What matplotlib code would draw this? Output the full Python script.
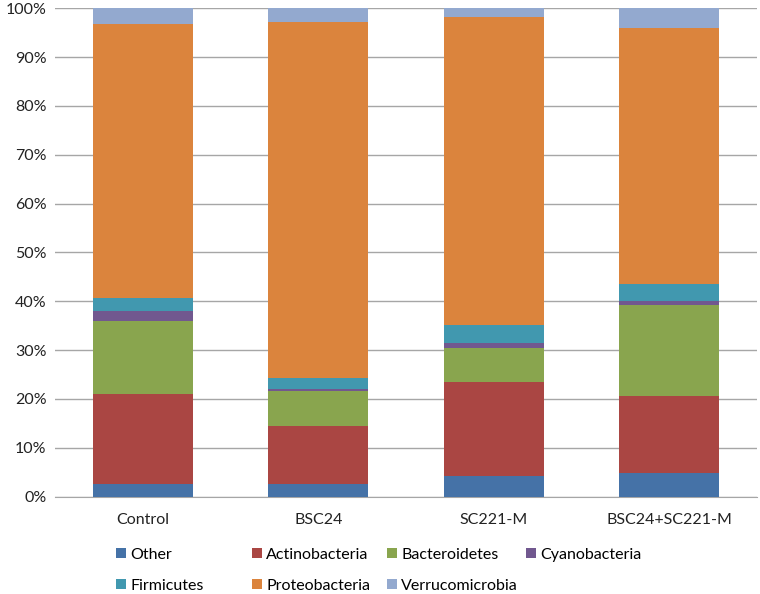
import numpy as np
import matplotlib.pyplot as plt

plt.rcParams['font.family'] = ['Lato', 'DejaVu Sans']

groups = ["Control", "BSC24", "SC221-M", "BSC24+SC221-M"]
phyla = ["Other", "Actinobacteria", "Bacteroidetes", "Cyanobacteria",
         "Firmicutes", "Proteobacteria", "Verrucomicrobia"]

# relative abundance (%) per group
other = [2.6, 2.6, 4.3, 4.8]
actino = [18.4, 11.9, 19.1, 15.8]
bacter = [15.0, 7.1, 7.0, 18.6]
cyano = [2.0, 0.4, 1.0, 0.9]
firmic = [2.7, 2.4, 3.7, 3.4]
proteo = [56.1, 72.8, 63.2, 52.4]
verruco = [3.2, 2.8, 1.7, 4.1]

colors = ["#4572A7", "#AA4643", "#89A54E", "#71588F",
          "#4198AF", "#DB843D", "#93A9CF"]

series = [other, actino, bacter, cyano, firmic, proteo, verruco]

fig = plt.figure(figsize=(7.6, 5.94), dpi=100)
ax = fig.add_axes([55/760, 1 - 496.7/594, 702/760, 488.5/594])

x = np.arange(len(groups))
bottom = np.zeros(len(groups))
handles = []
for name, vals, col in zip(phyla, series, colors):
    v = np.array(vals)
    b = ax.bar(x, v, 0.57, bottom=bottom, color=col, label=name, zorder=3)
    handles.append(b)
    bottom += v

ax.set_xlim(-0.5, len(groups) - 0.5)
ax.set_ylim(0, 100)
ax.set_yticks(np.arange(0, 101, 10))
ax.set_yticklabels([f"{t}%" for t in range(0, 101, 10)], fontsize=11.5, color="#222222")
ax.set_xticks(x)
ax.set_xticklabels(groups, fontsize=11.5, color="#222222")
ax.tick_params(length=0, pad=6)
ax.tick_params(axis='x', pad=12)
ax.grid(axis='y', color="#A6A6A6", linewidth=1.0, zorder=0)
for s in ["top", "right", "left"]:
    ax.spines[s].set_visible(False)
ax.spines["bottom"].set_color("#A6A6A6")

# legend laid out in rows of four, like the original
leg_x = [116, 252, 387, 526]
leg_y = [555, 586]
for i, (h, name) in enumerate(zip(handles, phyla)):
    r, c = divmod(i, 4)
    fig.legend([h], [name], loc="center left",
               bbox_to_anchor=(leg_x[c]/760, 1 - leg_y[r]/594),
               frameon=False, fontsize=11.5, handlelength=0.6, handleheight=0.6,
               handletextpad=0.3, borderpad=0, borderaxespad=0)

plt.savefig("out.png", dpi=100)
